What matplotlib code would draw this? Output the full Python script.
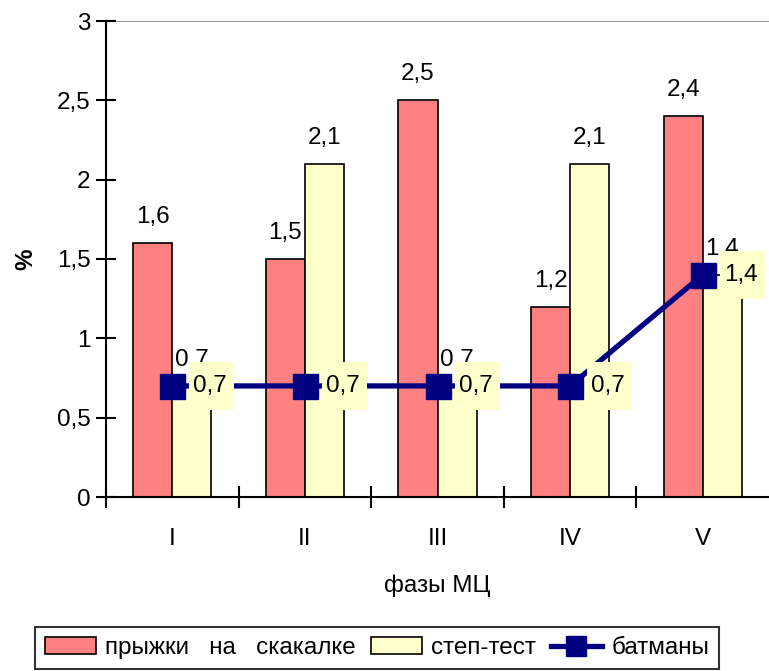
import matplotlib
matplotlib.use("Agg")
import matplotlib.pyplot as plt
import numpy as np
from matplotlib.patches import Rectangle
from matplotlib.transforms import Affine2D, ScaledTranslation

plt.rcParams['font.family'] = ['Liberation Sans', 'DejaVu Sans']

categories = ['I', 'II', 'III', 'IV', 'V']
jump_rope = [1.6, 1.5, 2.5, 1.2, 2.4]
step_test = [0.7, 2.1, 0.7, 2.1, 1.4]
battements = [0.7, 0.7, 0.7, 0.7, 1.4]
series_names = ['прыжки   на   скакалке', 'степ-тест', 'батманы']
y_ticks = [0, 0.5, 1, 1.5, 2, 2.5, 3]

RED = '#FF8080'
YEL = '#FFFFCC'
NAVY = '#000080'
FS = 17.5
PX = 0.72  # points per pixel at dpi 100

fig = plt.figure(figsize=(7.69, 6.71), dpi=100)
ax = fig.add_axes([106/769, 1-497/671, 663/769, (497-21)/671])

x = np.arange(len(categories))
w = 0.295
b1 = ax.bar(x - w/2, jump_rope, w, color=RED, edgecolor='black', linewidth=1.2, zorder=2)
b2 = ax.bar(x + w/2, step_test, w, color=YEL, edgecolor='black', linewidth=1.2, zorder=2)
ln, = ax.plot(x, battements, color=NAVY, linewidth=3.8, marker='s', markersize=18,
              markerfacecolor=NAVY, markeredgecolor=NAVY, zorder=4)

def fmt(v):
    return ('%g' % v).replace('.', ',')

for bars, vals in ((b1, jump_rope), (b2, step_test)):
    for r, v in zip(bars, vals):
        ax.annotate(fmt(v), (r.get_x() + r.get_width()/2, v), xytext=(0, 26*PX),
                    textcoords='offset points', ha='center', va='center',
                    fontsize=FS, zorder=3, annotation_clip=False)

# line labels with yellow boxes
for xi, v in zip(x, battements):
    tr = Affine2D() + ScaledTranslation(xi, v, ax.transData)
    rect = Rectangle((17, -24), 45, 48, transform=tr, facecolor=YEL,
                     edgecolor='none', zorder=5, clip_on=False)
    ax.add_patch(rect)
    ax.annotate(fmt(v), (xi, v), xytext=(21*PX, 0), textcoords='offset points',
                ha='left', va='center', fontsize=FS, zorder=6, annotation_clip=False)

ax.set_xlim(-0.5, 4.5)
ax.set_ylim(0, 3)
ax.set_yticks(y_ticks)
ax.set_yticklabels([fmt(t) for t in y_ticks], fontsize=FS)
ax.set_xticks(x)
ax.set_xticklabels(categories, fontsize=FS)
ax.tick_params(axis='x', length=0, pad=22)
ax.set_xticks(np.arange(-0.5, 4.5, 1), minor=True)
ax.tick_params(axis='x', which='minor', direction='inout', length=16, width=1.5)
ax.tick_params(axis='y', direction='inout', length=14, width=1.5, pad=4)

for s in ('top', 'right'):
    ax.spines[s].set_visible(False)
ax.spines['left'].set_linewidth(1.5)
ax.spines['bottom'].set_linewidth(1.5)
ax.axhline(3, color='#808080', linewidth=1.2, zorder=1)

ax.set_ylabel('%', fontsize=FS, fontweight='bold', labelpad=14)
ax.set_xlabel('фазы МЦ', fontsize=FS, labelpad=18)

leg = fig.legend([b1, b2, ln], series_names, loc='center',
                 bbox_to_anchor=(377/769, 1-648/671),
                 ncol=3, fontsize=FS, frameon=True, fancybox=False,
                 borderaxespad=0, handlelength=2.1, handletextpad=0.4, columnspacing=0.6,
                 borderpad=0.4)
leg.get_frame().set_edgecolor('black')
leg.get_frame().set_linewidth(1.5)
for lh in leg.legend_handles:
    if hasattr(lh, 'set_markersize'):
        lh.set_markersize(14)

fig.savefig('out.png', dpi=100)
